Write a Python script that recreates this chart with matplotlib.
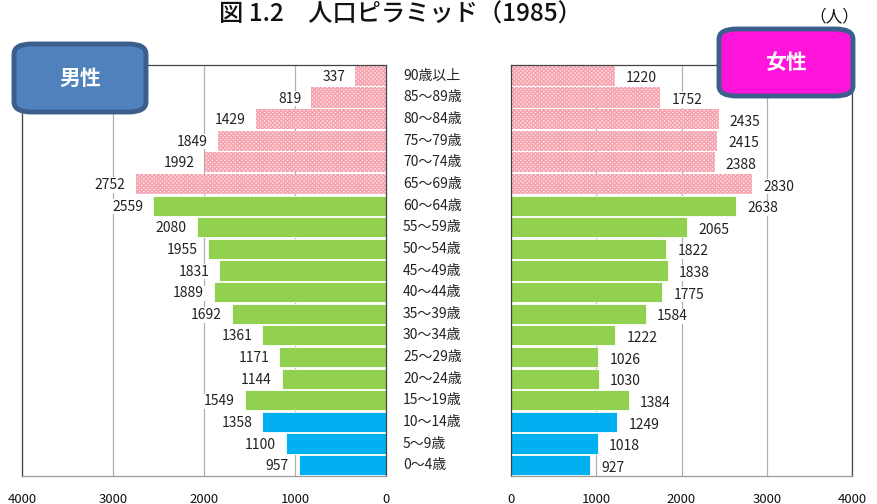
import matplotlib
matplotlib.use("Agg")
import matplotlib.pyplot as plt
from matplotlib.patches import FancyBboxPatch

plt.rcParams['font.family'] = ['Noto Sans CJK JP', 'DejaVu Sans']

categories = ["90歳以上", "85〜89歳", "80〜84歳", "75〜79歳", "70〜74歳", "65〜69歳",
              "60〜64歳", "55〜59歳", "50〜54歳", "45〜49歳", "40〜44歳", "35〜39歳",
              "30〜34歳", "25〜29歳", "20〜24歳", "15〜19歳", "10〜14歳", "5〜9歳", "0〜4歳"]
male = [337, 819, 1429, 1849, 1992, 2752, 2559, 2080, 1955, 1831, 1889, 1692,
        1361, 1171, 1144, 1549, 1358, 1100, 957]
female = [1220, 1752, 2435, 2415, 2388, 2830, 2638, 2065, 1822, 1838, 1775, 1584,
          1222, 1026, 1030, 1384, 1249, 1018, 927]
groups = ["old"] * 6 + ["work"] * 10 + ["young"] * 3
xticks = [0, 1000, 2000, 3000, 4000]

W, H = 877, 504
fig = plt.figure(figsize=(W / 100, H / 100), dpi=100)

def fx(p):
    return p / W

def fy(p):
    return 1 - p / H

axL = fig.add_axes([fx(22), fy(476), fx(386 - 22), fy(65) - fy(476)])
axR = fig.add_axes([fx(511), fy(476), fx(852 - 511), fy(65) - fy(476)])

n = len(categories)
ypos = [n - 1 - i for i in range(n)]
plt.rcParams['hatch.linewidth'] = 1.0

def style(g):
    if g == "old":
        return dict(color="#fde4e8", edgecolor="#f5a3ae", hatch="xxxxxxxx", linewidth=0)
    if g == "work":
        return dict(color="#92d050", edgecolor="white", linewidth=0.6)
    return dict(color="#00b0f0", edgecolor="white", linewidth=0.6)

for ax, vals, side in ((axL, male, "L"), (axR, female, "R")):
    for y, v, g in zip(ypos, vals, groups):
        ax.barh(y, v, height=0.93, **style(g), zorder=2)
        if side == "L":
            ax.text(v + 110, y - 0.05, f"{v}", ha="right", va="center", fontsize=10,
                    color="#222222", zorder=3,
                    bbox=dict(facecolor="white", edgecolor="none", pad=0.5))
        else:
            ax.text(v + 130, y - 0.12, f"{v}", ha="left", va="center", fontsize=10,
                    color="#222222", zorder=3,
                    bbox=dict(facecolor="white", edgecolor="none", pad=0.5))
    ax.set_xlim(0, 4000)
    ax.set_ylim(-0.5, n - 0.5)
    ax.set_xticks(xticks)
    ax.set_xticklabels([str(t) for t in xticks], fontsize=9.5)
    ax.set_yticks([])
    ax.grid(axis="x", color="#b0b0b0", linewidth=0.9, zorder=0)
    ax.set_axisbelow(True)
    for s in ax.spines.values():
        s.set_color("#444444")
        s.set_linewidth(0.9)
    ax.spines["bottom"].set_color("#999999")
    ax.tick_params(axis="x", length=0, pad=12, colors="#111111")

axL.invert_xaxis()

for y, c in zip(ypos, categories):
    yy = fy(476) + (y + 0.5) / n * (fy(65) - fy(476))
    fig.text(fx(403), yy, c, ha="left", va="center", fontsize=10, color="#222222")

fig.text(fx(400), fy(15), "図 1.2　人口ピラミッド（1985）", ha="center", va="center",
         fontsize=17.5, fontweight="medium", color="#111111")
fig.text(fx(834), fy(17), "（人）", ha="center", va="center", fontsize=12, color="#111111")

def label_box(x0, y0, x1, y1, fc, txt):
    box = FancyBboxPatch((fx(x0), fy(y1)), fx(x1 - x0), fy(y0) - fy(y1),
                         boxstyle="round,pad=0,rounding_size=0.02",
                         transform=fig.transFigure, facecolor=fc,
                         edgecolor="#3b5e8c", linewidth=3.5, zorder=10)
    fig.add_artist(box)
    fig.text(fx((x0 + x1) / 2), fy((y0 + y1) / 2), txt, ha="center", va="center",
             fontsize=15, fontweight="bold", color="white", zorder=11)

label_box(14, 44, 146, 112, "#4f81bd", "男性")
label_box(719, 29, 853, 96, "#ff14dc", "女性")

fig.savefig("out.png", dpi=100)
